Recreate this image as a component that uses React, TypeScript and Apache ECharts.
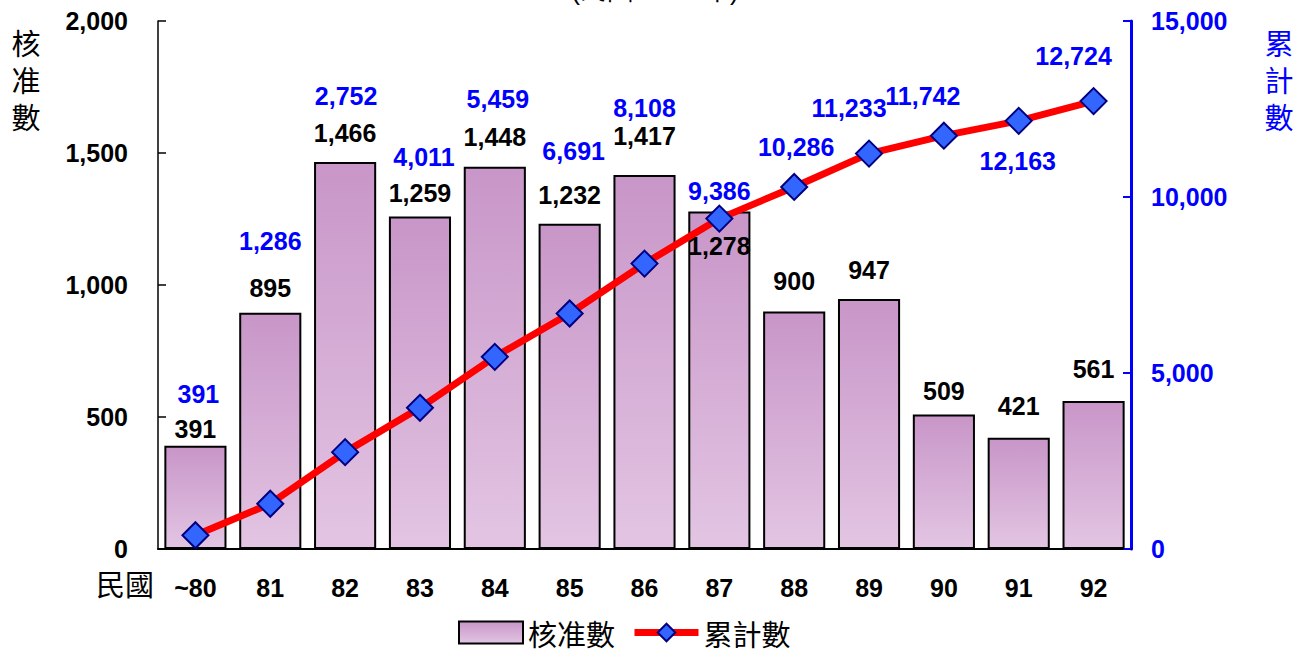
import React, { useEffect, useRef } from "react";
import * as echarts from "echarts";

const categories = ["~80", "81", "82", "83", "84", "85", "86", "87", "88", "89", "90", "91", "92"];
const approvedCounts = [391, 895, 1466, 1259, 1448, 1232, 1417, 1278, 900, 947, 509, 421, 561];
const cumulativeCounts = [391, 1286, 2752, 4011, 5459, 6691, 8108, 9386, 10286, 11233, 11742, 12163, 12724];
const leftTicks = { min: 0, max: 2000, interval: 500 };
const rightTicks = { min: 0, max: 15000, interval: 5000 };
const leftAxisName = ["核", "准", "數"];
const rightAxisName = ["累", "計", "數"];

// label placement tweaks (pixels), separate from data
const barLabelDy = [0, -8, -12, -7, -13, -12, -22, 51, -14, -12, -7, -15, -15];
const lineLabelOffsets = [
  [3, -141], [0, -263], [1, -356], [4, -251], [3, -258], [4, -162], [0, -156],
  [0, -28], [2, -40], [-20, -46], [-21, -40], [-1, 40], [-20, -45],
];

const FONT = "Arial, 'Liberation Sans', sans-serif";
const CJK = "'Noto Sans CJK TC', 'Noto Sans CJK SC', sans-serif";

const fmt = (v: number) => v.toLocaleString("en-US");

export default function App() {
  const ref = useRef<HTMLDivElement>(null);
  useEffect(() => {
    if (!ref.current) return;
    const chart = echarts.init(ref.current, null, { renderer: "svg" });
    const vertical = (chars: string[], x: number, color: string) =>
      chars.map((c, i) => ({
        type: "text",
        x,
        y: 42 + i * 37,
        style: { text: c, fontSize: 29, fontFamily: CJK, fill: color, align: "center", verticalAlign: "middle" },
      }));
    chart.setOption({
      animation: false,
      backgroundColor: "#ffffff",
      grid: { left: 158, right: 172, top: 21, bottom: 101, containLabel: false },
      legend: {
        top: 613,
        left: 453,
        itemWidth: 64,
        itemHeight: 22,
        itemGap: 16,
        textStyle: { fontSize: 29, lineHeight: 29, fontFamily: CJK, color: "#000" },
        data: [
          { name: "核准數", icon: "rect" },
          { name: "累計數", lineStyle: { width: 7, color: "#ff0000" } },
        ],
      },
      graphic: [
        ...vertical(leftAxisName, 26, "#000"),
        ...vertical(rightAxisName, 1279, "#0000ff"),
        { type: "text", left: 96, top: 568, style: { text: "民國", fontSize: 29, fontFamily: CJK, fill: "#000" } },
        { type: "text", x: 655, y: 3, style: { text: "(民國80-92年)", fontSize: 27, fontFamily: FONT, fill: "#000", align: "center", verticalAlign: "bottom" } },
      ],
      xAxis: {
        type: "category",
        data: categories,
        axisLine: { lineStyle: { color: "#000", width: 2 } },
        axisTick: { inside: true, length: 8, lineStyle: { color: "#000", width: 1.5 } },
        axisLabel: { fontSize: 25, fontWeight: "bold", fontFamily: FONT, color: "#000", margin: 26 },
      },
      yAxis: [
        {
          type: "value",
          ...leftTicks,
          axisLine: { show: true, lineStyle: { color: "#000", width: 1.5 } },
          axisTick: { show: true, inside: true, length: 8, lineStyle: { color: "#000", width: 1.5 } },
          axisLabel: { fontSize: 25, fontWeight: "bold", fontFamily: FONT, color: "#000", margin: 30, formatter: (v: number) => fmt(v) },
          splitLine: { show: false },
        },
        {
          type: "value",
          ...rightTicks,
          position: "right",
          axisLine: { show: true, lineStyle: { color: "#0000ff", width: 3 } },
          axisTick: { show: true, inside: true, length: 8, lineStyle: { color: "#0000ff", width: 2 } },
          axisLabel: { fontSize: 25, fontWeight: "bold", fontFamily: FONT, color: "#0000ff", margin: 20, formatter: (v: number) => fmt(v) },
          splitLine: { show: false },
        },
      ],
      series: [
        {
          name: "核准數",
          type: "bar",
          barCategoryGap: "17%",
          data: approvedCounts.map((v, i) => ({
            value: v,
            label: { offset: [0, barLabelDy[i]] },
          })),
          itemStyle: {
            color: new echarts.graphic.LinearGradient(0, 0, 0, 1, [
              { offset: 0, color: "#c896c8" },
              { offset: 1, color: "#e3c5e3" },
            ]),
            borderColor: "#000",
            borderWidth: 2,
          },
          label: {
            show: true,
            position: "top",
            distance: 4,
            fontSize: 25,
            fontWeight: "bold",
            fontFamily: FONT,
            color: "#000",
            formatter: (p: any) => fmt(p.value),
          },
          z: 2,
        },
        {
          name: "累計數",
          type: "line",
          yAxisIndex: 1,
          data: cumulativeCounts.map((v, i) => ({
            value: v,
            label: { offset: lineLabelOffsets[i] },
          })),
          lineStyle: { color: "#ff0000", width: 7 },
          symbol: "diamond",
          symbolSize: 26,
          itemStyle: { color: "#3366ff", borderColor: "#000080", borderWidth: 2 },
          label: {
            show: true,
            position: "inside",
            fontSize: 25,
            fontWeight: "bold",
            fontFamily: FONT,
            color: "#0000ff",
            formatter: (p: any) => fmt(p.value),
          },
          z: 5,
        },
      ],
    });
    return () => chart.dispose();
  }, []);
  return <div ref={ref} style={{ width: 1303, height: 650, position: "absolute", left: 0, top: 0 }} />;
}
